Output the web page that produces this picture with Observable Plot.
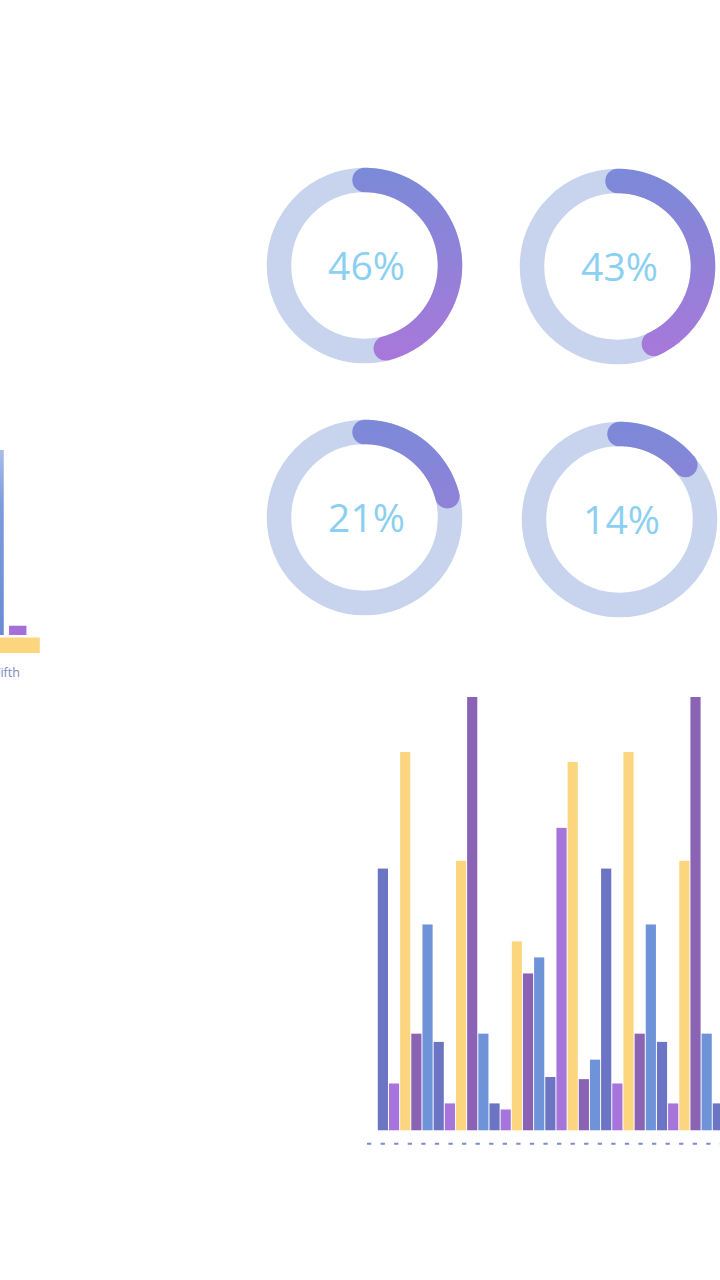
<!DOCTYPE html>
<html>
<head>
<meta charset="utf-8">
<script src="https://cdn.jsdelivr.net/npm/d3@7"></script>
<script src="https://cdn.jsdelivr.net/npm/@observablehq/plot@0.6"></script>
<style>
  html, body { margin: 0; padding: 0; background: #fff; overflow: hidden; }
  #page { position: relative; width: 720px; height: 1280px; overflow: hidden; }
  .panel { position: absolute; }
  .panel svg { display: block; overflow: visible; max-width: none !important; }
</style>
</head>
<body>
<div id="page"></div>
<script>
// ---------- DATA ----------
// Donut gauges
const donutLabels = ["46%", "43%", "21%", "14%"];
const donutValues = [46, 43, 21, 14];

// Left (cropped) bar chart
const leftGroups = ["Fifth"];
const leftSeries = ["Blue", "Purple"];
const leftValues = [100, 5];

// Bottom grouped bar chart (5 series per group)
const barGroups = ["1", "2", "3", "4", "5", "6", "7"];
const barSeries = ["S1", "S2", "S3", "S4", "S5"];
const seriesS1 = [60.4, 20.4, 6.2, 12.3, 60.4, 20.4, 6.2];
const seriesS2 = [10.8, 6.2, 4.8, 69.8, 10.8, 6.2, 4.8];
const seriesS3 = [87.3, 62.2, 43.6, 85.0, 87.3, 62.2, 43.6];
const seriesS4 = [22.3, 100, 36.2, 11.8, 22.3, 100, 36.2];
const seriesS5 = [47.5, 22.3, 39.9, 16.3, 47.5, 22.3, 39.9];

// ---------- STYLE ----------
const ringColor = "#c8d4ee";
const labelColor = "#8bd0f1";
const barColors = ["#6c74c4", "#a674da", "#fcd67e", "#8b63b5", "#6e93d9"];

const page = document.getElementById("page");
function place(node, left, top, w) {
  const div = document.createElement("div");
  div.className = "panel";
  div.style.left = left + "px";
  div.style.top = top + "px";
  div.style.width = w + "px";
  div.appendChild(node);
  page.appendChild(div);
}

// ---------- DONUTS ----------
const donutCenters = [[364, 265], [617, 266], [364, 517], [619, 519]];
const S = 220, R = 85.5;
donutValues.forEach((v, k) => {
  const id = "arcgrad" + k;
  const n = 160;
  const arc = d3.range(n + 1).map(i => {
    const a = 2 * Math.PI * (v / 100) * (i / n);
    return {x: R * Math.sin(a), y: R * Math.cos(a)};
  });
  const defs = () => {
    const d = d3.create("svg:defs");
    const g = d.append("linearGradient").attr("id", id)
      .attr("gradientUnits", "userSpaceOnUse")
      .attr("x1", 0).attr("y1", S / 2 - 98).attr("x2", 0).attr("y2", S / 2 + 98);
    g.append("stop").attr("offset", 0).attr("stop-color", "#7b8ad8");
    g.append("stop").attr("offset", 1).attr("stop-color", "#a977da");
    return d.node();
  };
  const chart = Plot.plot({
    width: S, height: S,
    margin: 0,
    x: {domain: [-S / 2, S / 2], axis: null},
    y: {domain: [-S / 2, S / 2], axis: null},
    marks: [
      defs,
      Plot.dot([{x: 0, y: 0}], {x: "x", y: "y", r: R, fill: "none", stroke: ringColor, strokeWidth: 24.5}),
      Plot.line(arc, {x: "x", y: "y", stroke: `url(#${id})`, strokeWidth: 24.5, strokeLinecap: "round", strokeLinejoin: "round"}),
      Plot.text([donutLabels[k]], {x: () => 0, y: () => 0, text: d => d, dx: 2, dy: 2,
        fill: labelColor, fontSize: 39, fontWeight: 400, fontFamily: "Open Sans", textAnchor: "middle"})
    ]
  });
  const [cx, cy] = donutCenters[k];
  place(chart, cx - S / 2, cy - S / 2, S);
});

// ---------- LEFT BAR CHART ----------
{
  const data = leftSeries.map((s, i) => ({group: leftGroups[0], series: s, value: leftValues[i]}));
  const defs = () => {
    const d = d3.create("svg:defs");
    const g = d.append("linearGradient").attr("id", "leftgrad").attr("x1", 0).attr("y1", 0).attr("x2", 0).attr("y2", 1);
    g.append("stop").attr("offset", 0).attr("stop-color", "#a9bcea");
    g.append("stop").attr("offset", 0.3).attr("stop-color", "#7d9bde");
    g.append("stop").attr("offset", 1).attr("stop-color", "#6a8cd6");
    return d.node();
  };
  const W = 66.8;
  const chart = Plot.plot({
    width: W, height: 235,
    marginTop: 0, marginLeft: 0, marginRight: 0, marginBottom: 50,
    x: {domain: leftSeries, paddingInner: 0.233, paddingOuter: 0.588, round: false, axis: null},
    y: {domain: [0, 100], axis: null},
    marks: [
      defs,
      Plot.ruleY([0], {stroke: "#fcd67e", strokeWidth: 15.4, dy: 9.8}),
      Plot.barY(data, {x: "series", y: "value", fill: d => d.series === "Blue" ? "url(#leftgrad)" : "#a56fd8"}),
      Plot.text(leftGroups, {frameAnchor: "bottom", text: d => d, lineAnchor: "top", dy: 33,
        fill: "#7a89bd", fontSize: 12.5, fontFamily: "Open Sans"})
    ]
  });
  place(chart, -26.8, 450, W);
}

// ---------- BOTTOM GROUPED BARS ----------
{
  const cols = [seriesS1, seriesS2, seriesS3, seriesS4, seriesS5];
  const data = [];
  barGroups.forEach((g, gi) => barSeries.forEach((s, si) => {
    data.push({key: g + "|" + s, group: g, series: s, value: cols[si][gi]});
  }));
  const W = 411.4;
  const chart = Plot.plot({
    width: W, height: 453.3,
    marginTop: 0, marginLeft: 0, marginRight: 0, marginBottom: 20,
    x: {domain: data.map(d => d.key), paddingInner: 0, paddingOuter: 0.922, round: false, axis: null},
    y: {domain: [0, 100], axis: null},
    color: {domain: barSeries, range: barColors},
    marks: [
      Plot.barY(data, {x: "key", y: "value", fill: "series", insetLeft: 0.5, insetRight: 0.5}),
      Plot.ruleY([0], {dy: 13, stroke: "#7c8ccc", strokeWidth: 2, strokeDasharray: "4.3 9.27"})
    ]
  });
  place(chart, 367, 696.7, W);
}
</script>
</body>
</html>
